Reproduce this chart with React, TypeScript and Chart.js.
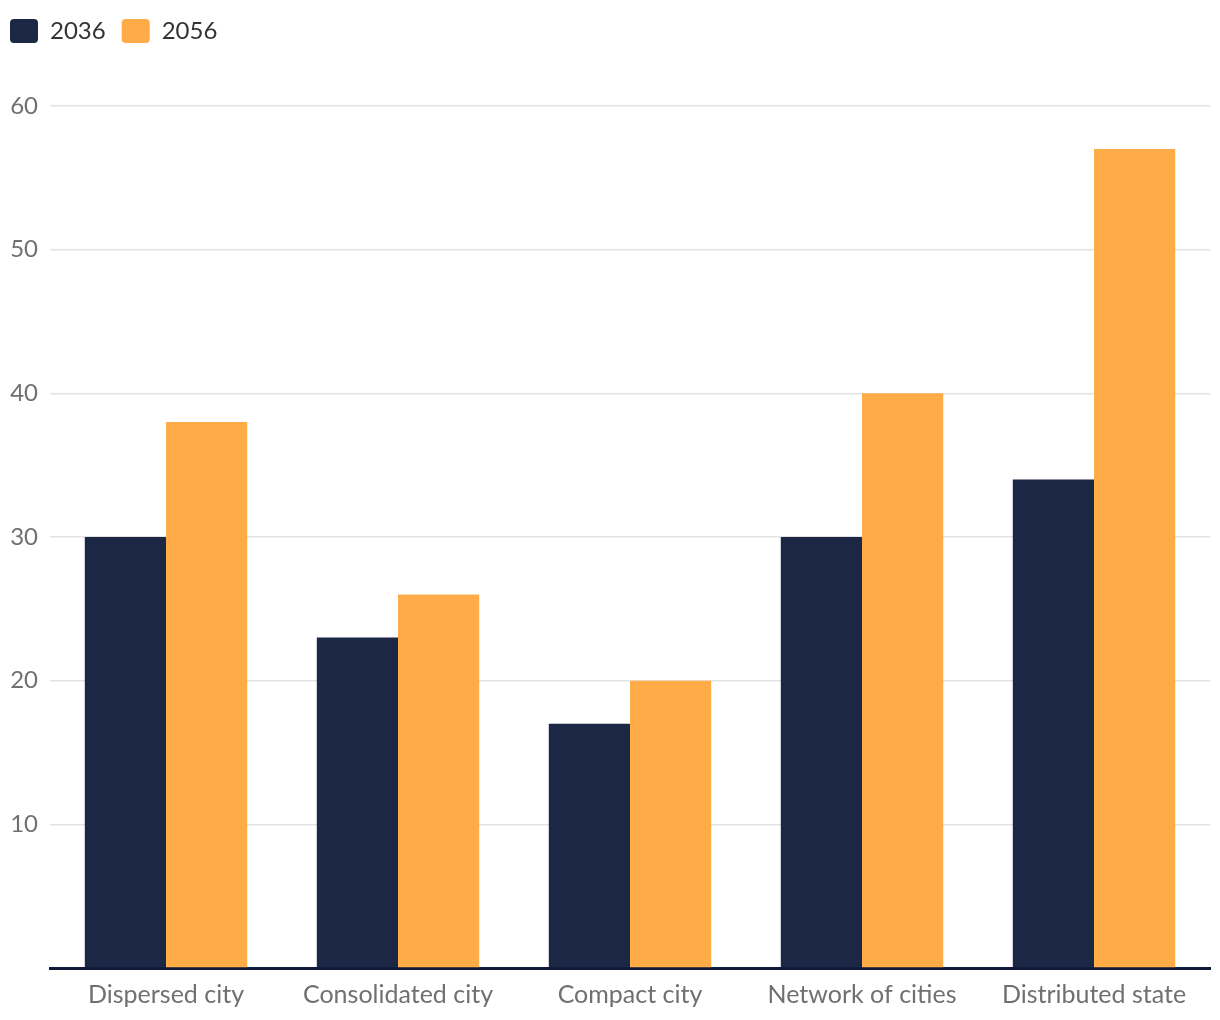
import React, { useEffect, useRef } from "react";
import { Chart, registerables } from "chart.js";

Chart.register(...registerables);

const categories = ["Dispersed city", "Consolidated city", "Compact city", "Network of cities", "Distributed state"];
const series2036 = [30, 23, 17, 30, 34];
const series2056 = [38, 26, 20, 40, 57];
const seriesLabels = ["2036", "2056"];
const colors = ["#1c2746", "#ffab47"];

export default function App() {
  const ref = useRef<HTMLCanvasElement | null>(null);
  useEffect(() => {
    document.body.style.margin = "0";
    const ctx = ref.current!;
    const legendMargin = {
      id: "legendMargin",
      beforeInit(chart: any) {
        const orig = chart.legend.fit;
        chart.legend.fit = function () {
          orig.bind(chart.legend)();
          this.height += 53;
        };
      },
      beforeDraw(chart: any) {
        chart.legend.left = -6;
      },
    };
    const chart = new Chart(ctx, {
      type: "bar",
      data: {
        labels: categories,
        datasets: [
          { label: seriesLabels[0], data: series2036, backgroundColor: colors[0], categoryPercentage: 0.7, barPercentage: 1 },
          { label: seriesLabels[1], data: series2056, backgroundColor: colors[1], categoryPercentage: 0.7, barPercentage: 1 },
        ],
      },
      options: {
        animation: false,
        responsive: false,
        maintainAspectRatio: false,
        layout: { padding: { left: 10, right: 10, top: 3, bottom: 6 } },
        plugins: {
          tooltip: { enabled: false },
          legend: {
            position: "top",
            align: "start",
            labels: {
              boxWidth: 28,
              boxHeight: 24,
              useBorderRadius: true,
              borderRadius: 4,
              padding: 16,
              color: "#333333",
              font: { family: "Lato", size: 24 },
            },
          },
        },
        scales: {
          x: {
            grid: { display: false },
            border: { display: true, color: "#0f1a3a", width: 3 },
            ticks: { color: "#707070", font: { family: "Lato", size: 25 }, padding: 4 },
          },
          y: {
            min: 0,
            max: 60,
            afterFit(scale: any) {
              scale.width = 40;
            },
            grid: { color: "#e3e3e3", lineWidth: 1.5, drawTicks: false },
            border: { display: false },
            ticks: {
              stepSize: 10,
              color: "#707070",
              font: { family: "Lato", size: 24 },
              padding: 12,
              callback: (v: any) => (v === 0 ? "" : v),
            },
          },
        },
      },
      plugins: [legendMargin],
    });
    return () => chart.destroy();
  }, []);
  return <canvas ref={ref} width={1220} height={1020} style={{ display: "block" }} />;
}
